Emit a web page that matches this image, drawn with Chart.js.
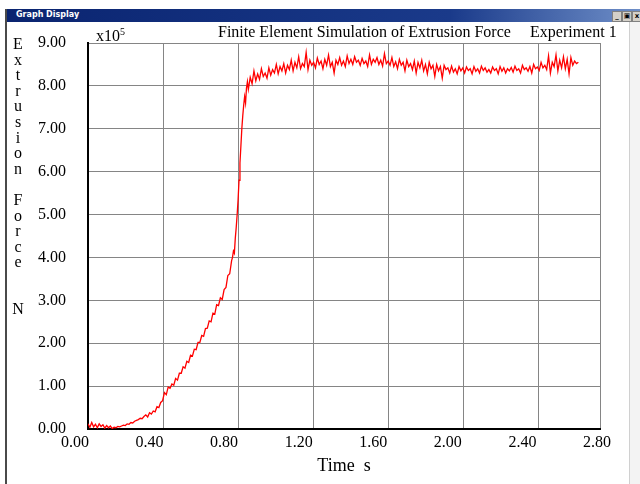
<!DOCTYPE html>
<html>
<head>
<meta charset="utf-8">
<script src="https://cdn.jsdelivr.net/npm/chart.js@4.4.1/dist/chart.umd.min.js"></script>
<style>
  html, body { margin: 0; padding: 0; background: #fff; }
  #wrap { position: relative; width: 640px; height: 484px; overflow: hidden; font-family: "Liberation Serif", serif; color: #000; }
  #chart { position: absolute; left: 0; top: 0; }
  .txt { position: absolute; white-space: pre; font-size: 16px; line-height: 16px; }
  #titlebar { position: absolute; left: 6px; top: 9px; width: 634px; height: 13px;
    background: linear-gradient(to right, #0a2470 0%, #1a3a8a 70%, #6f8fc8 100%); }
  #titlebar span { position: absolute; left: 10px; top: 1px; font: bold 8px "DejaVu Sans", sans-serif; color: #fff; }
  .btn { position: absolute; top: 11px; width: 8px; height: 9px; background: #d4d0c8; border: 1px solid #808080;
    font: bold 7px "DejaVu Sans", sans-serif; line-height: 9px; text-align: center; color: #000; }
  #leftedge { position: absolute; left: 5px; top: 9px; width: 2px; height: 475px; background: #4a4a4a; }
  #rightedge { position: absolute; left: 629px; top: 22px; width: 11px; height: 462px; background: #f3f3f3; border-left: 1px solid #d0d0d0; }
  #ylab { position: absolute; left: 8px; top: 36px; width: 20px; text-align: center; font-size: 16px; line-height: 15.6px; }
</style>
</head>
<body>
<div id="wrap">
  <canvas id="chart" width="640" height="484"></canvas>
  <div id="titlebar"><span>Graph Display</span></div>
  <div class="btn" style="left:612px">_</div>
  <div class="btn" style="left:622px">&#9635;</div>
  <div class="btn" style="left:632px">x</div>
  <div id="leftedge"></div>
  <div id="rightedge"></div>
  <div id="ylab">E<br>x<br>t<br>r<br>u<br>s<br>i<br>o<br>n<br>&nbsp;<br>F<br>o<br>r<br>c<br>e<br>&nbsp;<br>&nbsp;<br>N</div>
  <div class="txt" style="left:96px; top:24px;">x10<sup style="font-size:10px; vertical-align:6px;">5</sup></div>
  <div class="txt" style="left:218px; top:24px;">Finite Element Simulation of Extrusion Force</div>
  <div class="txt" style="left:530px; top:24px;">Experiment 1</div>
</div>
<script>
// time in seconds
const timeS = [
  0.07,0.08,0.09,0.10,0.11,0.12,0.13,0.14,0.15,0.16,
  0.17,0.18,0.19,0.20,0.21,0.22,0.23,0.24,0.25,0.26,
  0.27,0.28,0.29,0.30,0.31,0.32,0.33,0.34,0.35,0.36,
  0.37,0.38,0.39,0.40,0.41,0.42,0.43,0.44,0.45,0.46,
  0.47,0.48,0.49,0.50,0.51,0.52,0.53,0.54,0.55,0.56,
  0.57,0.58,0.59,0.60,0.61,0.62,0.63,0.64,0.65,0.66,
  0.67,0.68,0.69,0.70,0.71,0.72,0.73,0.74,0.75,0.76,
  0.77,0.78,0.79,0.80,0.81,0.82,0.83,0.84,
  0.845,0.85,0.855,0.86,0.865,0.87,0.875,0.88,0.885,0.89,0.895,0.90,0.905,0.91,0.915,0.92,0.925,
  0.93,0.94,0.95,0.96,0.97,0.98,0.99,1.00,1.01,1.02,
  1.03,1.04,1.05,1.06,1.07,1.08,1.09,1.10,1.11,1.12,
  1.13,1.14,1.15,1.16,1.17,1.18,1.19,1.20,1.21,1.22,
  1.23,1.24,1.25,1.26,1.27,1.28,1.29,1.30,1.31,1.32,
  1.33,1.34,1.35,1.36,1.37,1.38,1.39,1.40,1.41,1.42,
  1.43,1.44,1.45,1.46,1.47,1.48,1.49,1.50,1.51,1.52,
  1.53,1.54,1.55,1.56,1.57,1.58,1.59,1.60,1.61,1.62,
  1.63,1.64,1.65,1.66,1.67,1.68,1.69,1.70,1.71,1.72,
  1.73,1.74,1.75,1.76,1.77,1.78,1.79,1.80,1.81,1.82,
  1.83,1.84,1.85,1.86,1.87,1.88,1.89,1.90,1.91,1.92,
  1.93,1.94,1.95,1.96,1.97,1.98,1.99,2.00,2.01,2.02,
  2.03,2.04,2.05,2.06,2.07,2.08,2.09,2.10,2.11,2.12,
  2.13,2.14,2.15,2.16,2.17,2.18,2.19,2.20,2.21,2.22,
  2.23,2.24,2.25,2.26,2.27,2.28,2.29,2.30,2.31,2.32,
  2.33,2.34,2.35,2.36,2.37,2.38,2.39,2.40,2.41,2.42,
  2.43,2.44,2.45,2.46,2.47,2.48,2.49,2.50,2.51,2.52,
  2.53,2.54,2.55,2.56,2.57,2.58,2.59,2.60,2.61,2.62,
  2.63,2.64,2.65,2.66,2.67,2.68,2.69,2.70
];

// extrusion force, units of 1e5 N
const forceE5 = [
  0.12,0.04,0.15,0.05,0.11,0.03,0.12,0.06,0.10,0.02,
  0.08,0.03,0.07,0.01,0.04,0.03,0.06,0.05,0.07,0.09,
  0.08,0.12,0.11,0.15,0.14,0.18,0.20,0.22,0.25,0.24,
  0.29,0.33,0.28,0.38,0.35,0.42,0.40,0.52,0.50,0.62,
  0.66,0.85,0.80,0.98,0.95,1.05,1.02,1.18,1.14,1.30,
  1.30,1.45,1.42,1.58,1.55,1.72,1.70,1.86,1.85,2.02,
  2.02,2.18,2.16,2.34,2.35,2.52,2.50,2.70,2.68,2.90,
  2.88,3.06,3.02,3.25,3.30,3.58,3.62,3.92,
  4.00,4.15,4.10,4.45,4.70,5.00,5.35,5.80,6.20,6.60,7.00,7.30,7.55,7.75,7.60,7.95,8.10,
  7.92,8.20,8.05,8.35,8.12,8.28,8.15,8.40,8.22,8.30,
  8.18,8.42,8.25,8.38,8.30,8.50,8.28,8.45,8.35,8.52,
  8.30,8.48,8.38,8.60,8.35,8.55,8.42,8.68,8.40,8.52,
  8.45,8.78,8.38,8.60,8.48,8.55,8.42,8.65,8.50,8.58,
  8.40,8.62,8.48,8.72,8.45,8.55,8.30,8.60,8.50,8.66,
  8.48,8.58,8.45,8.70,8.52,8.62,8.50,8.68,8.55,8.60,
  8.48,8.64,8.52,8.58,8.45,8.72,8.50,8.62,8.55,8.66,
  8.50,8.60,8.46,8.75,8.52,8.58,8.48,8.66,8.45,8.56,
  8.40,8.62,8.48,8.55,8.35,8.60,8.45,8.52,8.38,8.58,
  8.30,8.55,8.42,8.60,8.35,8.50,8.28,8.55,8.40,8.48,
  8.22,8.50,8.35,8.45,8.18,8.48,8.38,8.42,8.30,8.46,
  8.32,8.40,8.28,8.45,8.35,8.42,8.30,8.44,8.36,8.40,
  8.28,8.45,8.34,8.40,8.30,8.46,8.36,8.42,8.32,8.38,
  8.30,8.44,8.36,8.40,8.28,8.45,8.34,8.42,8.30,8.40,
  8.35,8.43,8.32,8.46,8.36,8.40,8.30,8.48,8.38,8.42,
  8.34,8.45,8.30,8.50,8.40,8.44,8.36,8.55,8.42,8.48,
  8.38,8.70,8.30,8.55,8.45,8.72,8.35,8.60,8.42,8.68,
  8.40,8.62,8.28,8.66,8.48,8.58,8.52,8.55
];

const timeTicks = [0.00, 0.40, 0.80, 1.20, 1.60, 2.00, 2.40, 2.80];
const forceTicks = [0, 1, 2, 3, 4, 5, 6, 7, 8, 9];

// the plot frame starts a little after t = 0 and the grid is offset from the labels
const xMin = 0.07, xMax = 2.816, gridStep = 0.40225;
const gridAt = [];
for (let k = 0; xMin + k * gridStep < xMax; k++) gridAt.push(xMin + k * gridStep);
gridAt.push(xMax);

Chart.defaults.font.family = '"Liberation Serif", serif';
Chart.defaults.color = '#000';

new Chart(document.getElementById('chart'), {
  type: 'line',
  data: {
    datasets: [{
      data: timeS.map((t, i) => ({ x: t, y: forceE5[i] })),
      borderColor: '#ff0000',
      borderWidth: 1.3,
      pointRadius: 0,
      tension: 0,
      xAxisID: 'x',
      yAxisID: 'y'
    }]
  },
  options: {
    responsive: false,
    animation: false,
    layout: { padding: { top: 43, right: 40, bottom: 0, left: 0 } },
    plugins: { legend: { display: false }, tooltip: { enabled: false } },
    scales: {
      x: {
        type: 'linear', position: 'bottom', weight: 0, min: xMin, max: xMax,
        afterBuildTicks: s => { s.ticks = gridAt.map(v => ({ value: v })); },
        ticks: { display: false },
        grid: { color: '#858585', lineWidth: 1, drawTicks: false },
        border: { color: '#000', width: 2 },
        afterFit: s => { s.height = 0; }
      },
      xl: {
        type: 'linear', position: 'bottom', weight: 1, min: xMin, max: xMax,
        afterBuildTicks: s => { s.ticks = timeTicks.map(v => ({ value: v })); },
        ticks: { autoSkip: false, maxRotation: 0, padding: 4, font: { size: 16 }, callback: v => v.toFixed(2) },
        grid: { display: false, drawTicks: false },
        border: { display: false },
        title: { display: true, text: 'Time  s', font: { size: 18 }, padding: { top: 0, bottom: 7 } },
        afterFit: s => { s.height = 55; }
      },
      y: {
        min: 0, max: 9,
        afterBuildTicks: s => { s.ticks = forceTicks.map(v => ({ value: v })); },
        ticks: { padding: 22, font: { size: 16 }, callback: v => v.toFixed(2) },
        grid: { color: '#858585', lineWidth: 1, drawTicks: false },
        border: { color: '#000', width: 2 },
        afterFit: s => { s.width = 88; }
      }
    }
  }
});
</script>
</body>
</html>
